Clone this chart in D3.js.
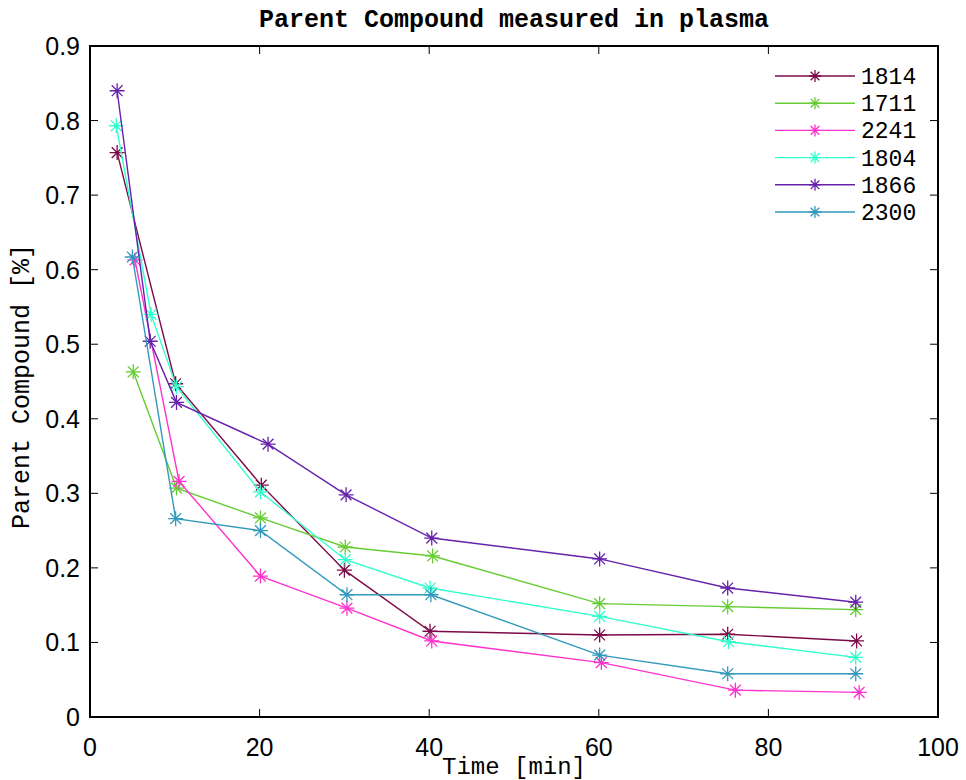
<!DOCTYPE html>
<html>
<head>
<meta charset="utf-8">
<script src="https://cdn.jsdelivr.net/npm/d3@7"></script>
<style>
html,body{margin:0;padding:0;background:#fff;}
svg{display:block;}
</style>
</head>
<body>
<script>
const seriesNames = ["1814","1711","2241","1804","1866","2300"];
const seriesColors = ["#7d0a48","#66cc33","#ff33cc","#33ffcc","#6622aa","#3399bb"];
const times1814 = [3.2,10.1,20.2,30.0,40.1,60.1,75.2,90.4];
const vals1814  = [0.757,0.447,0.311,0.197,0.115,0.110,0.111,0.102];
const times1711 = [5.1,10.2,20.1,30.1,40.4,60.1,75.2,90.3];
const vals1711  = [0.463,0.307,0.267,0.228,0.216,0.152,0.148,0.144];
const times2241 = [5.3,10.5,20.1,30.3,40.3,60.3,76.1,90.7];
const vals2241  = [0.613,0.316,0.189,0.146,0.102,0.073,0.036,0.033];
const times1804 = [3.1,7.2,10.2,20.1,30.1,40.1,60.1,75.3,90.3];
const vals1804  = [0.793,0.540,0.443,0.302,0.211,0.173,0.135,0.101,0.080];
const times1866 = [3.2,7.1,10.2,21.0,30.2,40.3,60.1,75.2,90.3];
const vals1866  = [0.840,0.504,0.422,0.366,0.298,0.240,0.212,0.173,0.154];
const times2300 = [5.0,10.1,20.1,30.3,40.2,60.1,75.2,90.3];
const vals2300  = [0.617,0.266,0.250,0.164,0.164,0.083,0.058,0.058];
const xTicks = [0,20,40,60,80,100];
const yTicks = [0,0.1,0.2,0.3,0.4,0.5,0.6,0.7,0.8,0.9];
const titleText = "Parent Compound measured in plasma";
const xLabel = "Time [min]";
const yLabel = "Parent Compound [%]";

const allTimes = [times1814,times1711,times2241,times1804,times1866,times2300];
const allVals = [vals1814,vals1711,vals2241,vals1804,vals1866,vals2300];
const series = seriesNames.map((n,i)=>({name:n,color:seriesColors[i],pts:allTimes[i].map((t,j)=>({t:t,v:allVals[i][j]}))}));

const W=966,H=780;
const L=90,R=938,T=46,B=717;
const svg=d3.select("body").append("svg").attr("width",W).attr("height",H);
const x=d3.scaleLinear().domain([0,100]).range([L,R]);
const y=d3.scaleLinear().domain([0,0.9]).range([B,T]);

const tickLen=8;
const gAx=svg.append("g");
xTicks.forEach(t=>{
  gAx.append("line").attr("x1",x(t)).attr("x2",x(t)).attr("y1",B).attr("y2",B-tickLen).attr("stroke","#000").attr("stroke-width",1);
  gAx.append("line").attr("x1",x(t)).attr("x2",x(t)).attr("y1",T).attr("y2",T+tickLen).attr("stroke","#000").attr("stroke-width",1);
});
yTicks.forEach(t=>{
  gAx.append("line").attr("x1",L).attr("x2",L+tickLen).attr("y1",y(t)).attr("y2",y(t)).attr("stroke","#000").attr("stroke-width",1);
  gAx.append("line").attr("x1",R).attr("x2",R-tickLen).attr("y1",y(t)).attr("y2",y(t)).attr("stroke","#000").attr("stroke-width",1);
});
gAx.append("rect").attr("x",L).attr("y",T).attr("width",R-L).attr("height",B-T).attr("fill","none").attr("stroke","#000").attr("stroke-width",2);

const tickFont="'Liberation Sans', Arial, sans-serif";
xTicks.forEach(t=>{
  svg.append("text").attr("x",x(t)).attr("y",756).attr("text-anchor","middle")
    .attr("font-family",tickFont).attr("font-size",25).attr("fill","#000").text(d3.format("d")(t));
});
yTicks.forEach(t=>{
  svg.append("text").attr("x",80).attr("y",y(t)+9).attr("text-anchor","end")
    .attr("font-family",tickFont).attr("font-size",25).attr("fill","#000").text(t===0?"0":d3.format(".1f")(t));
});

const mono="'Liberation Mono','Courier New',monospace";
svg.append("text").attr("x",(L+R)/2).attr("y",27).attr("text-anchor","middle")
  .attr("font-family",mono).attr("font-weight","bold").attr("font-size",25).attr("fill","#000").text(titleText);
svg.append("text").attr("x",(L+R)/2).attr("y",774).attr("text-anchor","middle")
  .attr("font-family",mono).attr("font-size",24).attr("fill","#000").text(xLabel);
svg.append("text").attr("transform",`translate(29,${(T+B)/2 + 5}) rotate(-90)`).attr("text-anchor","middle")
  .attr("font-family",mono).attr("font-size",25).attr("fill","#000").text(yLabel);

function star(g,cx,cy,r,color){
  const d=r*0.72;
  const p=`M${cx-r},${cy}L${cx+r},${cy}M${cx},${cy-r}L${cx},${cy+r}M${cx-d},${cy-d}L${cx+d},${cy+d}M${cx-d},${cy+d}L${cx+d},${cy-d}`;
  g.append("path").attr("d",p).attr("stroke",color).attr("stroke-width",1.3).attr("fill","none");
}

const line=d3.line().x(d=>x(d.t)).y(d=>y(d.v));
series.forEach(s=>{
  const g=svg.append("g");
  g.append("path").datum(s.pts).attr("d",line).attr("fill","none").attr("stroke",s.color).attr("stroke-width",1.4);
  s.pts.forEach(p=>star(g,x(p.t),y(p.v),7.5,s.color));
});

const lg=svg.append("g");
series.forEach((s,i)=>{
  const yy=76+i*27.2;
  lg.append("line").attr("x1",775).attr("x2",855).attr("y1",yy).attr("y2",yy).attr("stroke",s.color).attr("stroke-width",1.4);
  star(lg,815,yy,6,s.color);
  lg.append("text").attr("x",861).attr("y",yy+8).attr("font-family",mono).attr("font-size",23).attr("fill","#000").text(s.name);
});
</script>
</body>
</html>
